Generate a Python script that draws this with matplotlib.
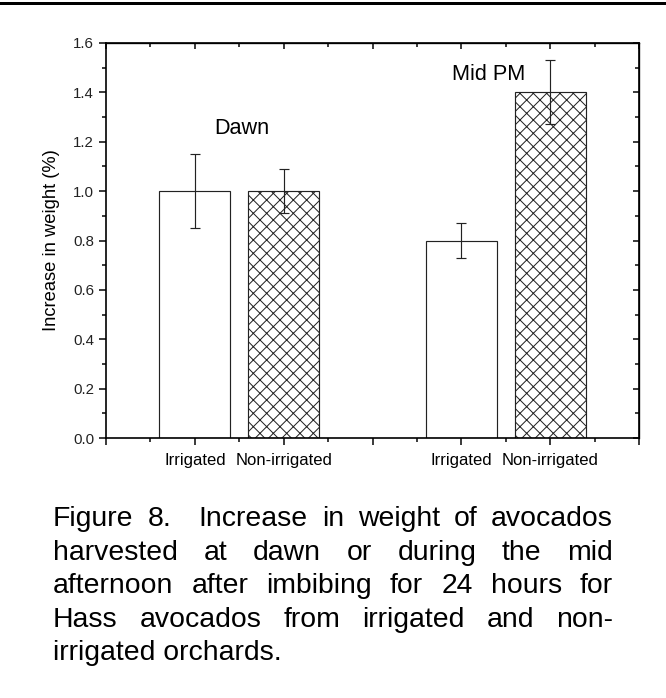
import numpy as np
import matplotlib
matplotlib.use('Agg')
from matplotlib import pyplot as plt
from matplotlib.lines import Line2D
from matplotlib.ticker import MultipleLocator, FormatStrFormatter

plt.rcParams['font.family'] = ['Liberation Sans', 'DejaVu Sans']
plt.rcParams['hatch.linewidth'] = 0.6

# Datos del grafico
grupos = ['Dawn', 'Mid PM']
tratamientos = ['Irrigated', 'Non-irrigated']
incremento = [[1.0, 1.0], [0.8, 1.4]]       # aumento de peso (%)
error = [[0.15, 0.09], [0.07, 0.13]]
tramas = ['', 'xxx']
pie = ["Figure 8.  Increase in weight of avocados",
       "harvested at dawn or during the mid",
       "afternoon after imbibing for 24 hours for",
       "Hass avocados from irrigated and non-",
       "irrigated orchards."]

W, H, DPI = 666, 698, 120
fig = plt.figure(figsize=(W / DPI, H / DPI), dpi=DPI)
ax = fig.add_axes([106 / W, (H - 438) / H, (639 - 106) / W, (438 - 43) / H])

etiquetas = []
for g in range(len(grupos)):
    for t in range(len(tratamientos)):
        x = g * 3 + t + 1
        etiquetas.append(tratamientos[t])
        ax.bar(x, incremento[g][t], width=0.8, color='white', edgecolor='#222222',
               linewidth=0.7, hatch=tramas[t], zorder=2)
        ax.errorbar(x, incremento[g][t], yerr=error[g][t], fmt='none', ecolor='#222222',
                    elinewidth=0.7, capsize=3, capthick=0.7, zorder=3)

# textos de grupo
ax.text(1.53, 1.23, grupos[0], ha='center', va='baseline', fontsize=13)
ax.text(4.31, 1.45, grupos[1], ha='center', va='baseline', fontsize=13)

ax.set_xlim(0, 6)
ax.set_ylim(0, 1.6)
ax.xaxis.set_minor_locator(MultipleLocator(0.5))
ax.set_xticks(range(0, 7))
ax.set_xticklabels(['', etiquetas[0], etiquetas[1], '', etiquetas[2], etiquetas[3], ''])
ax.yaxis.set_major_locator(MultipleLocator(0.2))
ax.yaxis.set_minor_locator(MultipleLocator(0.1))
ax.yaxis.set_major_formatter(FormatStrFormatter('%.1f'))
ax.tick_params(axis='both', which='major', direction='out', length=4.2, width=0.9,
               top=False, right=False)
ax.tick_params(axis='both', which='minor', direction='out', length=2.2, width=0.9,
               top=False, right=False)
ax.tick_params(axis='x', which='major', pad=5, labelsize=10)
ax.tick_params(axis='y', which='major', pad=3, labelsize=9, labelcolor='#222222')
for s in ax.spines.values():
    s.set_linewidth(1.0)

# marcas hacia dentro arriba y a la derecha
arriba = ax.secondary_xaxis('top')
arriba.xaxis.set_major_locator(MultipleLocator(1))
arriba.xaxis.set_minor_locator(MultipleLocator(0.5))
arriba.tick_params(which='major', direction='in', length=3.5, width=0.9, labeltop=False)
arriba.tick_params(which='minor', direction='in', length=2.2, width=0.9)
derecha = ax.secondary_yaxis('right')
derecha.yaxis.set_major_locator(MultipleLocator(0.2))
derecha.yaxis.set_minor_locator(MultipleLocator(0.1))
derecha.tick_params(which='major', direction='in', length=3.5, width=0.9, labelright=False)
derecha.tick_params(which='minor', direction='in', length=2.2, width=0.9)

ax.set_ylabel('Increase in weight (%)', fontsize=11, labelpad=8)

# linea superior
fig.add_artist(Line2D([0, 1], [1 - 3 / H, 1 - 3 / H], transform=fig.transFigure,
                      color='black', linewidth=1.8))

# pie de figura justificado
fig.canvas.draw()
renderer = fig.canvas.get_renderer()
izq, der = 53, 613
for i, linea in enumerate(pie):
    y = 1 - (526 + i * 33.6) / H
    if i == len(pie) - 1:
        fig.text(izq / W, y, linea, fontsize=17, va='baseline', ha='left')
        continue
    palabras = linea.split(' ')
    anchos = []
    textos = []
    for p in palabras:
        t = fig.text(0, y, p, fontsize=17, va='baseline', ha='left')
        anchos.append(t.get_window_extent(renderer).width if p else 0)
        textos.append(t)
    hueco = (der - izq - sum(anchos)) / (len(palabras) - 1)
    x = izq
    for t, a in zip(textos, anchos):
        t.set_x(x / W)
        x += a + hueco

fig.savefig('out.png', dpi=DPI)
